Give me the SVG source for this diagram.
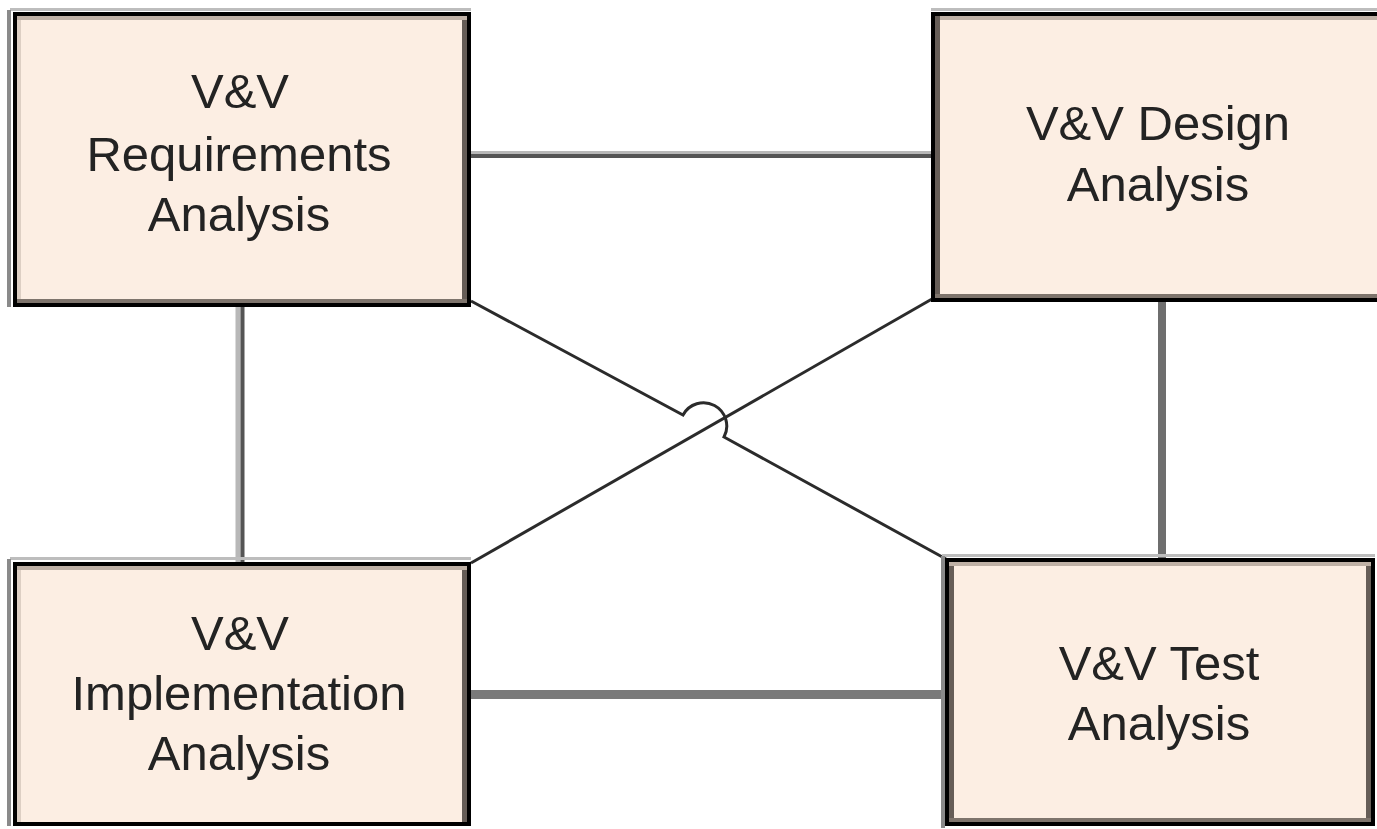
<svg xmlns="http://www.w3.org/2000/svg" width="1377" height="829" viewBox="0 0 1377 829">
  <style>
    .frame { fill: #FCEEE3; stroke: #000; stroke-width: 4; }
    .hi-top { stroke: #BFB1A6; stroke-width: 4; fill: none; }
    .hi-left { stroke: #DDCFC4; stroke-width: 4; fill: none; }
    .sh-right { stroke: #665D57; stroke-width: 5; fill: none; }
    .sh-bottom { stroke: #7E746C; stroke-width: 4; fill: none; }
    .out-top { stroke: #BDBDBD; stroke-width: 3; fill: none; }
    .out-left { stroke: #8A8A8A; stroke-width: 4; fill: none; }
    .label { font-family: "Liberation Sans", Arial, sans-serif; font-size: 49px; fill: #232323; text-anchor: middle; }
    .wire { fill: none; stroke: #2B2B2B; stroke-width: 3; }
    .bar-light { stroke: #B8B8B8; fill: none; }
    .bar-dark { stroke: #555555; fill: none; }
  </style>

  <!-- connectors -->
  <g id="connectors">
    <!-- Requirements to Design -->
    <line class="bar-light" x1="471" y1="152.5" x2="931" y2="152.5" stroke-width="3"/>
    <line class="bar-dark" x1="471" y1="156" x2="931" y2="156" stroke-width="4"/>
    <!-- Requirements to Implementation -->
    <line class="bar-light" x1="238" y1="307" x2="238" y2="562" stroke-width="5"/>
    <line class="bar-dark" x1="242.5" y1="307" x2="242.5" y2="562" stroke-width="4"/>
    <!-- Design to Test -->
    <line x1="1162" y1="302" x2="1162" y2="558" stroke="#6E6E6E" stroke-width="8"/>
    <!-- Implementation to Test -->
    <line x1="471" y1="694.5" x2="945" y2="694.5" stroke="#7A7A7A" stroke-width="9"/>
    <!-- Implementation to Design (diagonal) -->
    <line class="wire" x1="471" y1="563" x2="932" y2="299"/>
    <!-- Requirements to Test (diagonal with line jump) -->
    <path class="wire" d="M471,301 L683,415 A23,23 0 0,1 724,437 L946,559"/>
  </g>

  <!-- Requirements node -->
  <g id="node-requirements">
    <line class="out-top" x1="10" y1="9.5" x2="471" y2="9.5"/>
    <line class="out-left" x1="9" y1="10" x2="9" y2="307"/>
    <rect class="frame" x="15" y="14" width="454" height="291"/>
    <line class="hi-top" x1="17" y1="18" x2="467" y2="18"/>
    <line class="hi-left" x1="19" y1="20" x2="19" y2="303"/>
    <line class="sh-right" x1="464.5" y1="20" x2="464.5" y2="303"/>
    <line class="sh-bottom" x1="17" y1="301" x2="467" y2="301"/>
    <text class="label" x="240" y="108">V&amp;V</text>
    <text class="label" x="239" y="171">Requirements</text>
    <text class="label" x="239" y="231">Analysis</text>
  </g>

  <!-- Design node -->
  <g id="node-design">
    <line class="out-top" x1="931" y1="9.5" x2="1377" y2="9.5"/>
    <rect class="frame" x="933" y="14" width="450" height="286"/>
    <line class="hi-top" x1="935" y1="18" x2="1377" y2="18"/>
    <line class="sh-right" x1="937.5" y1="16" x2="937.5" y2="298" stroke="#3A3632"/>
    <line class="sh-bottom" x1="935" y1="296" x2="1377" y2="296"/>
    <text class="label" x="1158" y="140">V&amp;V Design</text>
    <text class="label" x="1158" y="201">Analysis</text>
  </g>

  <!-- Implementation node -->
  <g id="node-implementation">
    <line class="out-top" x1="10" y1="558.5" x2="471" y2="558.5" stroke="#8A8A8A"/>
    <line class="out-left" x1="9" y1="559" x2="9" y2="826"/>
    <rect class="frame" x="15" y="564" width="454" height="260"/>
    <line class="hi-top" x1="17" y1="568" x2="467" y2="568"/>
    <line class="hi-left" x1="19" y1="570" x2="19" y2="822"/>
    <line class="sh-right" x1="464.5" y1="570" x2="464.5" y2="822"/>
    <text class="label" x="240" y="650">V&amp;V</text>
    <text class="label" x="239" y="710">Implementation</text>
    <text class="label" x="239" y="770">Analysis</text>
  </g>

  <!-- Test node -->
  <g id="node-test">
    <line class="out-top" x1="942" y1="555.5" x2="1375" y2="555.5"/>
    <line class="out-left" x1="943" y1="556" x2="943" y2="828" stroke="#BDBDBD"/>
    <rect class="frame" x="947" y="560" width="426" height="264"/>
    <line class="hi-top" x1="949" y1="564" x2="1371" y2="564"/>
    <line class="sh-right" x1="951.5" y1="566" x2="951.5" y2="822" stroke="#7E746C"/>
    <line class="sh-right" x1="1368.5" y1="566" x2="1368.5" y2="822" stroke="#3A3632"/>
    <line class="sh-bottom" x1="949" y1="820" x2="1371" y2="820" stroke="#BFB1A6"/>
    <text class="label" x="1159" y="680">V&amp;V Test</text>
    <text class="label" x="1159" y="740">Analysis</text>
  </g>
</svg>
